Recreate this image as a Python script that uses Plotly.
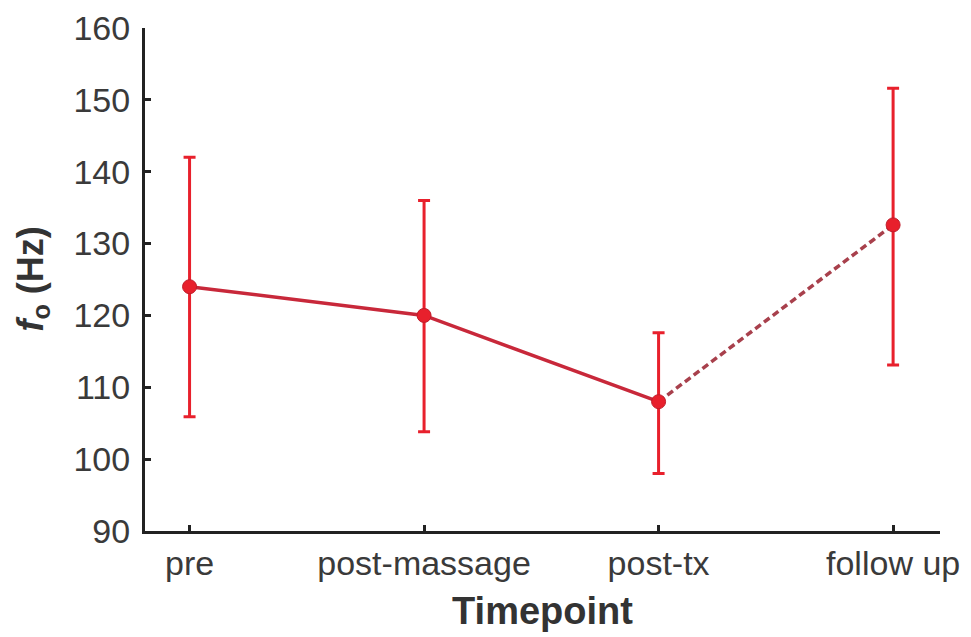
import plotly.graph_objects as go

categories = ["pre", "post-massage", "post-tx", "follow up"]
means = [124.0, 120.0, 108.0, 132.6]
upper = [142.0, 136.0, 117.6, 151.6]
lower = [105.9, 103.8, 98.0, 113.1]
y_ticks = [90, 100, 110, 120, 130, 140, 150, 160]
y_title = "<b><i>f</i><sub>o</sub> (Hz)</b>"
x_title = "<b>Timepoint</b>"

err_plus = [u - m for u, m in zip(upper, means)]
err_minus = [m - l for m, l in zip(means, lower)]
xs = list(range(len(categories)))

RED = "#e8202c"
LINE = "#c8283a"
DASH = "#a8404c"
FONT = "Liberation Sans, Arial, sans-serif"

fig = go.Figure()
# solid line for first three timepoints
fig.add_trace(go.Scatter(x=xs[:3], y=means[:3], mode="lines",
                         line=dict(color=LINE, width=3.5), showlegend=False))
# dashed line to follow up
fig.add_trace(go.Scatter(x=xs[2:], y=means[2:], mode="lines",
                         line=dict(color=DASH, width=3.5, dash="7px,4px"), showlegend=False))
# markers with error bars
fig.add_trace(go.Scatter(x=xs, y=means, mode="markers",
                         marker=dict(color=RED, size=14, line=dict(color="#c01c2a", width=1)),
                         error_y=dict(type="data", symmetric=False, array=err_plus,
                                      arrayminus=err_minus, color=RED, thickness=3, width=6),
                         showlegend=False))

# page body has an 8px default margin, so the figure is sized to fit the window
fig.update_layout(
    width=963, height=629,
    margin=dict(l=137, r=31, t=20, b=106),
    paper_bgcolor="white", plot_bgcolor="white",
    font=dict(family=FONT, color="#3a3a3a"),
    xaxis=dict(
        range=[-0.19, 3.2], tickmode="array", tickvals=xs, ticktext=categories,
        automargin=False,
        showgrid=False, zeroline=False, showline=True, linecolor="#222", linewidth=3,
        ticks="inside", ticklen=6, tickwidth=3, tickcolor="#222",
        tickfont=dict(size=34, color="#3a3a3a", family=FONT),
        title=dict(text=x_title, font=dict(size=38, color="#333", family=FONT), standoff=17),
    ),
    yaxis=dict(
        range=[90, 160], tickmode="array", tickvals=y_ticks,
        automargin=False,
        showgrid=False, zeroline=False, showline=True, linecolor="#222", linewidth=3,
        ticks="inside", ticklen=6, tickwidth=3, tickcolor="#222",
        ticklabelstandoff=5,
        tickfont=dict(size=34, color="#3a3a3a", family=FONT),
    ),
    annotations=[dict(
        text=y_title, xref="paper", yref="paper", x=-0.142, y=0.5,
        xanchor="center", yanchor="middle", textangle=-90, showarrow=False,
        font=dict(size=36, color="#333", family=FONT),
    )],
)

fig.write_html("out.html")
